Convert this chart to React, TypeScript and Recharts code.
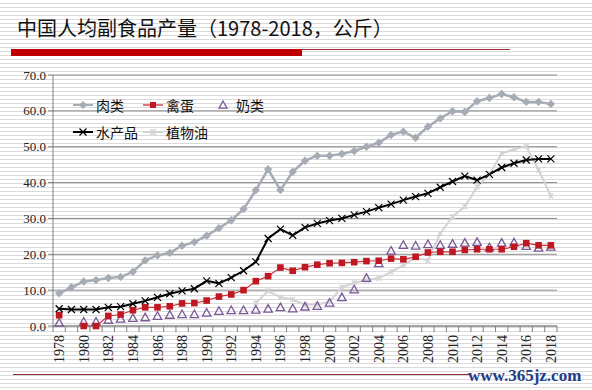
import React from 'react';
import { LineChart, Line, XAxis, YAxis, CartesianGrid, Legend } from 'recharts';

const years = [
  1978, 1979, 1980, 1981, 1982, 1983, 1984, 1985, 1986, 1987,
  1988, 1989, 1990, 1991, 1992, 1993, 1994, 1995, 1996, 1997,
  1998, 1999, 2000, 2001, 2002, 2003, 2004, 2005, 2006, 2007,
  2008, 2009, 2010, 2011, 2012, 2013, 2014, 2015, 2016, 2017, 2018,
];

const meat = [
  9.1, 10.8, 12.4, 12.8, 13.4, 13.7, 15.1, 18.3, 19.7, 20.4,
  22.4, 23.4, 25.2, 27.3, 29.5, 32.6, 37.9, 43.7, 37.9, 43.0,
  46.1, 47.5, 47.5, 48.0, 48.8, 50.0, 51.1, 53.3, 54.2, 52.5,
  55.6, 57.9, 59.9, 59.7, 62.7, 63.6, 64.7, 63.8, 62.5, 62.5, 61.9,
];

const eggs = [
  3.0, null, 0.0, 0.0, 2.8, 3.2, 4.4, 5.2, 5.2, 5.5,
  6.3, 6.4, 7.1, 8.2, 8.8, 10.0, 12.5, 13.9, 16.3, 15.4,
  16.4, 17.1, 17.5, 17.6, 17.8, 18.1, 18.2, 18.8, 18.6, 19.3,
  20.5, 20.7, 20.7, 21.2, 21.4, 21.4, 21.4, 22.1, 23.1, 22.5, 22.5,
];

const milk = [
  0.9, null, 1.2, 1.2, 1.7, 2.0, 2.2, 2.4, 2.8, 3.1,
  3.3, 3.3, 3.7, 4.2, 4.4, 4.4, 4.5, 4.8, 5.2, 4.9,
  5.4, 5.6, 6.5, 8.0, 10.2, 13.4, 17.5, 21.0, 22.6, 22.4,
  22.8, 22.6, 22.9, 23.2, 23.4, 21.9, 23.2, 23.3, 22.3, 21.8, 22.1,
];

const fish = [
  4.8, 4.6, 4.6, 4.6, 5.2, 5.4, 6.2, 7.0, 8.0, 9.0,
  9.8, 10.4, 12.6, 11.9, 13.5, 15.4, 17.9, 24.4, 27.0, 25.3,
  27.5, 28.6, 29.4, 30.0, 31.0, 31.9, 33.0, 34.0, 35.1, 36.1,
  37.0, 38.7, 40.3, 41.8, 40.7, 42.3, 44.2, 45.4, 46.3, 46.6, 46.6,
];

const oil = [
  null, null, null, null, null, null, null, null, null, null,
  null, null, null, null, null, null, 6.4, 9.8, 8.0, 7.4,
  5.9, 6.0, 6.8, 10.8, 12.1, 12.8, 13.3, 15.1, 17.0, 19.0,
  18.3, 25.8, 30.5, 33.3, 38.8, 42.3, 48.1, 49.3, 50.1, 43.5, 36.3,
];

const yTicks = [0, 10, 20, 30, 40, 50, 60, 70];
const yearLabels = [
  1978, 1980, 1982, 1984, 1986, 1988, 1990, 1992, 1994, 1996, 1998,
  2000, 2002, 2004, 2006, 2008, 2010, 2012, 2014, 2016, 2018,
];

const titleText = '中国人均副食品产量（1978-2018，公斤）';
const watermarkText = 'www.365jz.com';

const seriesLabels = {
  meat: '肉类',
  eggs: '禽蛋',
  milk: '奶类',
  fish: '水产品',
  oil: '植物油',
};

const COLORS = {
  meat: '#a6acb5',
  eggs: '#c01822',
  milk: '#7a5898',
  fish: '#000000',
  oil: '#d3d3d3',
};

const data = years.map((y, i) => ({
  year: y,
  meat: meat[i],
  eggs: eggs[i],
  milk: milk[i],
  fish: fish[i],
  oil: oil[i],
}));

const boundaryTicks = years.map((y) => y - 0.5).concat([years[years.length - 1] + 0.5]);
const xTicks = boundaryTicks.concat(yearLabels).sort((a, b) => a - b);

const SERIF = '"Liberation Serif", "Times New Roman", serif';
const CJK = '"Noto Sans CJK SC", "Noto Sans", sans-serif';

const valid = (cx: any, cy: any) => cx != null && cy != null && !isNaN(cx) && !isNaN(cy);

const diamondDot = (color: string, r: number) => (p: any) => {
  const { cx, cy, index } = p;
  if (!valid(cx, cy)) return <g key={`d${index}`} />;
  return (
    <polygon
      key={`d${index}`}
      points={`${cx},${cy - r} ${cx + r},${cy} ${cx},${cy + r} ${cx - r},${cy}`}
      fill={color}
    />
  );
};

const squareDot = (color: string, r: number) => (p: any) => {
  const { cx, cy, index } = p;
  if (!valid(cx, cy)) return <g key={`s${index}`} />;
  return <rect key={`s${index}`} x={cx - r} y={cy - r} width={2 * r} height={2 * r} fill={color} />;
};

const crossDot = (color: string, r: number, w: number) => (p: any) => {
  const { cx, cy, index } = p;
  if (!valid(cx, cy)) return <g key={`x${index}`} />;
  return (
    <g key={`x${index}`} stroke={color} strokeWidth={w}>
      <line x1={cx - r} y1={cy - r} x2={cx + r} y2={cy + r} />
      <line x1={cx - r} y1={cy + r} x2={cx + r} y2={cy - r} />
    </g>
  );
};

const triangleDot = (color: string, r: number) => (p: any) => {
  const { cx, cy, index } = p;
  if (!valid(cx, cy)) return <g key={`t${index}`} />;
  return (
    <polygon
      key={`t${index}`}
      points={`${cx},${cy - r} ${cx + r},${cy + r * 0.8} ${cx - r},${cy + r * 0.8}`}
      fill="none"
      stroke={color}
      strokeWidth={1.3}
    />
  );
};

const starDot = (color: string, r: number) => (p: any) => {
  const { cx, cy, index } = p;
  if (!valid(cx, cy)) return <g key={`o${index}`} />;
  return (
    <g key={`o${index}`} stroke={color} strokeWidth={1.2}>
      <line x1={cx - r} y1={cy - r} x2={cx + r} y2={cy + r} />
      <line x1={cx - r} y1={cy + r} x2={cx + r} y2={cy - r} />
      <line x1={cx} y1={cy - r} x2={cx} y2={cy + r} />
    </g>
  );
};

const XTick = (props: any) => {
  const { x, y, payload } = props;
  const v = payload.value;
  if (!Number.isInteger(v)) {
    return <line x1={x} x2={x} y1={y - 8} y2={y - 2} stroke="#808080" strokeWidth={1} />;
  }
  const ty = y + 1;
  return (
    <text
      x={x}
      y={ty}
      transform={`rotate(-90 ${x} ${ty})`}
      textAnchor="end"
      dy="0.36em"
      fontSize={14}
      fontFamily={SERIF}
      fill="#222"
    >
      {v}
    </text>
  );
};

const LegendIcon = ({ kind }: { kind: string }) => {
  const c = (COLORS as any)[kind];
  return (
    <svg width={20} height={14} style={{ display: 'block' }}>
      {kind !== 'milk' && (
        <line x1={0} x2={20} y1={7} y2={7} stroke={c} strokeWidth={kind === 'eggs' ? 1.2 : 2} />
      )}
      {kind === 'meat' && diamondDot(c, 4)({ cx: 10, cy: 7, index: 0 })}
      {kind === 'eggs' && squareDot(c, 3)({ cx: 10, cy: 7, index: 0 })}
      {kind === 'milk' && triangleDot(c, 4)({ cx: 10, cy: 7, index: 0 })}
      {kind === 'fish' && crossDot(c, 3.5, 1.2)({ cx: 10, cy: 7, index: 0 })}
      {kind === 'oil' && starDot(c, 3)({ cx: 10, cy: 7, index: 0 })}
    </svg>
  );
};

const legendRows = [
  ['meat', 'eggs', 'milk'],
  ['fish', 'oil'],
];

const renderLegend = () => (
  <div style={{ position: 'relative', width: 240, height: 50 }}>
    {legendRows.map((row, ri) =>
      row.map((k, ci) => (
        <div
          key={k}
          style={{
            position: 'absolute',
            left: ci * 70,
            top: ri * 27,
            height: 20,
            display: 'flex',
            alignItems: 'center',
            whiteSpace: 'nowrap',
          }}
        >
          <LegendIcon kind={k} />
          <span
            style={{
              marginLeft: 3,
              fontFamily: CJK,
              fontSize: 14,
              color: '#111',
              lineHeight: '20px',
            }}
          >
            {(seriesLabels as any)[k]}
          </span>
        </div>
      ))
    )}
  </div>
);

export default function App() {
  return (
    <div
      style={{
        position: 'absolute',
        left: 0,
        top: 0,
        width: 592,
        height: 390,
        overflow: 'hidden',
        background:
          'repeating-linear-gradient(to bottom, #ffffff 0px, #ffffff 3px, #dadada 3px, #dadada 4px)',
      }}
    >
      <svg width={592} height={390} style={{ position: 'absolute', left: 0, top: 0 }}>
        <text x={17} y={35.5} fontFamily={CJK} fontSize={20} fill="#111">
          {titleText}
        </text>
        <rect x={11} y={49} width={291} height={7} fill="#c00000" />
        <line x1={302} x2={510} y1={49.5} y2={49.5} stroke="#a03030" strokeWidth={1} />
        <line x1={13} x2={470} y1={374.5} y2={374.5} stroke="#8b2a2a" strokeWidth={1} />
        <text
          x={468}
          y={381}
          fontFamily={SERIF}
          fontWeight="bold"
          fontSize={17}
          fill="#1f3c88"
        >
          {watermarkText}
        </text>
      </svg>
      <div style={{ position: 'absolute', left: 0, top: 0 }}>
        <LineChart
          width={592}
          height={390}
          data={data}
          margin={{ top: 75, right: 35, bottom: 0, left: 0 }}
        >
          <CartesianGrid horizontal vertical={false} stroke="#8a8a8a" strokeWidth={1} />
          <XAxis
            dataKey="year"
            type="number"
            domain={[boundaryTicks[0], boundaryTicks[boundaryTicks.length - 1]]}
            ticks={xTicks}
            interval={0}
            height={64}
            tickSize={6}
            tickMargin={2}
            tickLine={false}
            axisLine={{ stroke: '#808080' }}
            tick={<XTick />}
            allowDataOverflow
          />
          <YAxis
            type="number"
            domain={[0, 70]}
            ticks={yTicks}
            interval={0}
            width={53}
            tickSize={5}
            tickMargin={2}
            tickLine={{ stroke: '#808080' }}
            axisLine={{ stroke: '#808080' }}
            tickFormatter={(v: number) => v.toFixed(1)}
            tick={{ fontFamily: SERIF, fontSize: 13, fill: '#222' }}
          />
          <Legend
            layout="horizontal"
            verticalAlign="middle"
            align="center"
            content={renderLegend}
            wrapperStyle={{ top: 95, left: 73, width: 240, height: 50 }}
          />
          <Line
            dataKey="oil"
            stroke={COLORS.oil}
            strokeWidth={2}
            dot={starDot(COLORS.oil, 2.5)}
            isAnimationActive={false}
          />
          <Line
            dataKey="milk"
            stroke="none"
            strokeWidth={0}
            dot={triangleDot(COLORS.milk, 4.2)}
            isAnimationActive={false}
          />
          <Line
            dataKey="eggs"
            stroke="#c8333a"
            strokeWidth={1.2}
            dot={squareDot(COLORS.eggs, 3.3)}
            isAnimationActive={false}
          />
          <Line
            dataKey="fish"
            stroke={COLORS.fish}
            strokeWidth={2}
            dot={crossDot(COLORS.fish, 3.5, 1.2)}
            isAnimationActive={false}
          />
          <Line
            dataKey="meat"
            stroke={COLORS.meat}
            strokeWidth={2.5}
            dot={diamondDot(COLORS.meat, 4.2)}
            isAnimationActive={false}
          />
        </LineChart>
      </div>
    </div>
  );
}
